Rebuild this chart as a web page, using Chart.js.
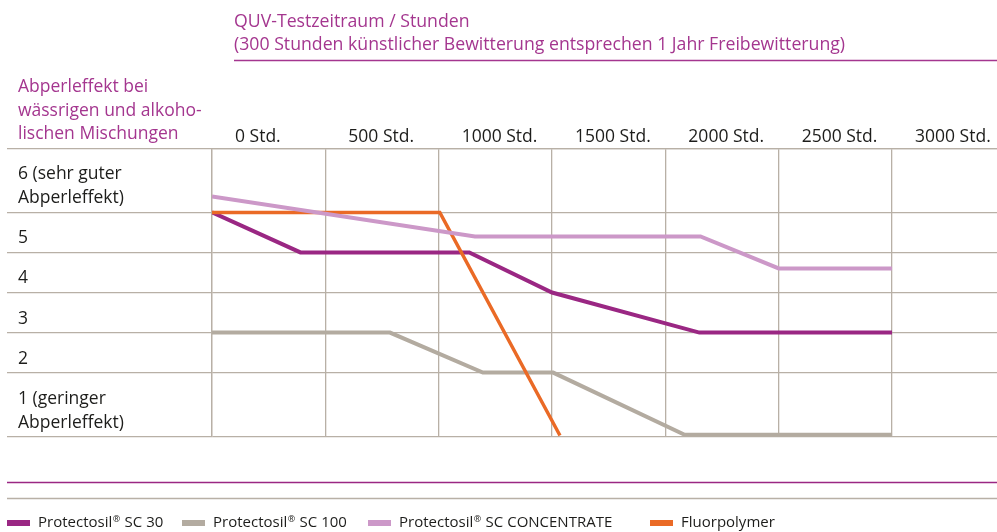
<!DOCTYPE html>
<html lang="de">
<head>
<meta charset="utf-8">
<title>Abperleffekt QUV</title>
<script src="https://cdn.jsdelivr.net/npm/chart.js@4.4.0/dist/chart.umd.min.js"></script>
<style>
  html, body { margin: 0; padding: 0; background: #fff; }
  #wrap { position: relative; width: 997px; height: 532px; }
</style>
</head>
<body>
<div id="wrap"><canvas id="chart"></canvas></div>
<script>
// series names (legend)
const seriesNames = ['Protectosil\u00AE SC 30', 'Protectosil\u00AE SC 100', 'Protectosil\u00AE SC CONCENTRATE', 'Fluorpolymer'];

// QUV hours / rating per series
const hoursSC30 = [0, 390, 1135, 1500, 2150, 3000];
const ratingSC30 = [5.5, 4.5, 4.5, 3.5, 2.5, 2.5];
const hoursSC100 = [0, 785, 1195, 1505, 2085, 3000];
const ratingSC100 = [2.5, 2.5, 1.5, 1.5, -0.05, -0.05];
const hoursConc = [0, 1160, 2155, 2500, 3000];
const ratingConc = [5.9, 4.9, 4.9, 4.1, 4.1];
const hoursFluor = [0, 1005, 1535];
const ratingFluor = [5.5, 5.5, -0.07];

// axes
const xTickHours = [0, 500, 1000, 1500, 2000, 2500, 3000];
const ratingBounds = [-0.1, 1.5, 2.5, 3.5, 4.5, 5.5, 7.1];
const rowLabels = [['1 (geringer', 'Abperleffekt)'], ['2'], ['3'], ['4'], ['5'], ['6 (sehr guter', 'Abperleffekt)']];
const headerLines = ['QUV-Testzeitraum / Stunden', '(300 Stunden k\u00FCnstlicher Bewitterung entsprechen 1 Jahr Freibewitterung)'];
const yTitleLines = ['Abperleffekt bei', 'w\u00E4ssrigen und alkoho-', 'lischen Mischungen'];

const colors = ['#9a2783', '#b3aba0', '#cc98c8', '#ea6a26'];
const gridColor = '#b8b0a6';
const purpleText = '#a4368f';
const textColor = '#1d1d1b';
const fontFamily = '"Open Sans", sans-serif';

Chart.defaults.font.family = fontFamily;

function points(xs, ys) {
  let out = [];
  for (let i = 0; i < xs.length; i++) {
    out.push({ x: xs[i], y: ys[i] });
  }
  return out;
}

function lineSet(i, xs, ys, width, order) {
  return {
    label: seriesNames[i],
    data: points(xs, ys),
    borderColor: colors[i],
    backgroundColor: colors[i],
    borderWidth: width,
    borderJoinStyle: 'miter',
    borderCapStyle: 'butt',
    pointRadius: 0,
    tension: 0,
    order: order
  };
}

// text, rules and legend around the plot
const decorPlugin = {
  id: 'decor',
  afterDraw(chart) {
    let ctx = chart.ctx;
    let y = chart.scales.y;
    ctx.save();
    ctx.textAlign = 'left';
    ctx.textBaseline = 'alphabetic';

    // header
    ctx.font = '17.7px ' + fontFamily;
    ctx.fillStyle = purpleText;
    ctx.fillText(headerLines[0], 234, 27);
    ctx.fillText(headerLines[1], 234, 50);
    ctx.strokeStyle = purpleText;
    ctx.lineWidth = 1.5;
    ctx.beginPath();
    ctx.moveTo(234, 60.5);
    ctx.lineTo(997, 60.5);
    ctx.stroke();

    // y title
    ctx.font = '17.5px ' + fontFamily;
    yTitleLines.forEach(function (t, k) {
      ctx.fillText(t, 18, 92 + k * 23.5);
    });

    // row labels
    ctx.fillStyle = textColor;
    for (let i = 0; i < rowLabels.length; i++) {
      let mid = (y.getPixelForValue(ratingBounds[i]) + y.getPixelForValue(ratingBounds[i + 1])) / 2;
      let lines = rowLabels[i];
      lines.forEach(function (t, k) {
        ctx.fillText(t, 18, mid + 11 + (k - (lines.length - 1) / 2) * 24);
      });
    }

    // bottom rules
    ctx.lineWidth = 1.5;
    ctx.strokeStyle = colors[0];
    ctx.beginPath();
    ctx.moveTo(7, 482.5);
    ctx.lineTo(997, 482.5);
    ctx.stroke();
    ctx.strokeStyle = gridColor;
    ctx.beginPath();
    ctx.moveTo(7, 498.5);
    ctx.lineTo(997, 498.5);
    ctx.stroke();

    // legend
    let legendX = [7, 182, 368, 650];
    chart.data.datasets.forEach(function (ds, i) {
      let x = legendX[i];
      ctx.fillStyle = ds.borderColor;
      ctx.fillRect(x, 520, 23, 6);
      ctx.fillStyle = textColor;
      let parts = ds.label.split('\u00AE');
      let tx = x + 31;
      ctx.font = '15px ' + fontFamily;
      ctx.fillText(parts[0], tx, 527);
      tx += ctx.measureText(parts[0]).width;
      if (parts.length > 1) {
        ctx.font = '9px ' + fontFamily;
        ctx.fillText('\u00AE', tx + 0.5, 522);
        tx += ctx.measureText('\u00AE').width + 1;
        ctx.font = '15px ' + fontFamily;
        ctx.fillText(parts[1], tx, 527);
      }
    });
    ctx.restore();
  }
};

let ctxChart = document.getElementById('chart').getContext('2d');
let chart = new Chart(ctxChart, {
  type: 'line',
  data: {
    datasets: [
      lineSet(0, hoursSC30, ratingSC30, 4, 2),
      lineSet(1, hoursSC100, ratingSC100, 4, 3),
      lineSet(2, hoursConc, ratingConc, 4, 0),
      lineSet(3, hoursFluor, ratingFluor, 3.5, 1)
    ]
  },
  options: {
    responsive: true,
    maintainAspectRatio: false,
    animation: false,
    layout: { padding: { top: 125.3, left: 7, right: 0, bottom: 95.3 } },
    plugins: {
      legend: { display: false },
      tooltip: { enabled: false }
    },
    scales: {
      x: {
        type: 'linear',
        position: 'top',
        min: 0,
        max: 3463,
        afterBuildTicks: function (scale) {
          scale.ticks = xTickHours.map(function (v) { return { value: v }; });
        },
        ticks: {
          align: 'start',
          labelOffset: 23,
          padding: 1,
          maxRotation: 0,
          autoSkip: false,
          color: textColor,
          font: { size: 17.5 },
          callback: function (value) { return value + ' Std.'; }
        },
        grid: { color: gridColor, lineWidth: 1.3, drawTicks: false },
        border: { color: gridColor, width: 1.3 }
      },
      y: {
        min: ratingBounds[0],
        max: ratingBounds[ratingBounds.length - 1],
        afterBuildTicks: function (scale) {
          scale.ticks = ratingBounds.map(function (v) { return { value: v }; });
        },
        ticks: { display: false },
        grid: { color: gridColor, lineWidth: 1.3, drawTicks: true, tickLength: 205 },
        border: { color: gridColor, width: 1.3 }
      }
    }
  },
  plugins: [decorPlugin]
});
</script>
</body>
</html>
